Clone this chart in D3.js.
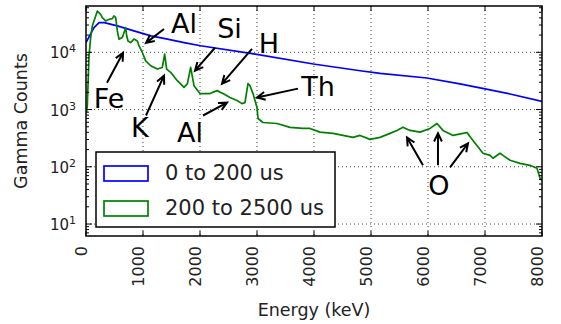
<!DOCTYPE html>
<html>
<head>
<meta charset="utf-8">
<script src="https://cdn.jsdelivr.net/npm/d3@7"></script>
<style>
  body { margin: 0; background: #fff; }
  svg { display: block; font-family: "DejaVu Sans", sans-serif; }
</style>
</head>
<body>
<svg id="chart" width="561" height="324"></svg>
<script>
// blue: 0 to 200 us
const earlyEnergy = [0, 140, 230, 320, 550, 840, 1140, 1430, 1720, 2010, 2970, 3990, 4810, 5160, 5980, 6560, 7000, 7440, 8000];
const earlyCounts = [14800, 27000, 33000, 33000, 28900, 23700, 19400, 17000, 14800, 13000, 9300, 6240, 4760, 4280, 3560, 2800, 2290, 1870, 1390];

// green: 200 to 2500 us
const lateEnergy = [10, 23, 53, 82, 111, 170, 199, 257, 286, 345, 404, 462, 491, 521, 550, 579, 637, 696, 714, 737,
  784, 842, 900, 930, 988, 1047, 1135, 1251, 1339, 1380, 1415, 1485, 1602, 1719, 1778, 1836, 1895, 1982, 2000, 2175,
  2298, 2404, 2526, 2649, 2737, 2789, 2842, 2877, 2930, 3000, 3018, 3105, 3351, 3579, 3807, 3930, 4105, 4333, 4509,
  4684, 4807, 4982, 5158, 5333, 5456, 5561, 5684, 5860, 6035, 6158, 6263, 6439, 6614, 6684, 6789, 6965, 7088, 7140,
  7263, 7316, 7439, 7614, 7789, 7912, 7965, 8000];
const lateCounts = [900, 1170, 8700, 18100, 28900, 43200, 52500, 46000, 40300, 35300, 37800, 38700, 43200, 40300, 23600, 17000, 18100, 26900, 19400, 15800,
  14800, 17000, 15800, 13000, 9930, 7100, 5820, 5100, 5440, 9300, 5100, 4470, 3190, 2440, 2800, 5440, 2610, 2000, 1900, 1900,
  2140, 1900, 1620, 1440, 1270, 1320, 2830, 2610, 1900, 1085, 697, 594, 571, 487, 468, 468, 403, 383, 353,
  326, 353, 301, 326, 383, 432, 492, 432, 403, 468, 571, 432, 353, 383, 398, 289, 172, 158, 141,
  172, 158, 130, 115, 106, 94, 63, 58];

const seriesNames = ["0 to 200 us", "200 to 2500 us"];
const seriesColors = ["#0000ff", "#008000"];

const xTicks = [0, 1000, 2000, 3000, 4000, 5000, 6000, 7000, 8000];
const yTicks = [10, 100, 1000, 10000];

// annotations: label position (energy, counts) and arrows [tailE, tailC, tipE, tipC]
const noteText = ["Fe", "Al", "K", "Si", "H", "Th", "Al", "O"];
const noteAt = [[403, 1084], [1719, 21800], [947, 326], [2518, 17900], [3211, 9800], [4070, 1750], [1825, 267], [6193, 31.9]];
const noteArrows = [
  [[368, 2950, 650, 9800]],
  [[1368, 25600, 1053, 14600]],
  [[1053, 787, 1368, 3900]],
  [[2263, 12000, 1912, 4770]],
  [[2912, 11500, 2386, 2830]],
  [[3719, 2320, 3000, 1620]],
  [[2053, 787, 2474, 1320]],
  [[5912, 106, 5632, 326], [6175, 106, 6175, 383], [6386, 98, 6702, 256]]
];

const svg = d3.select("#chart");
const pLeft = 86, pRight = 542, pTop = 6, pBottom = 236;

const x = d3.scaleLinear().domain([0, 8000]).range([pLeft, pRight]);
const y = d3.scaleLog().domain([6.18, 64400]).range([pBottom, pTop]);

// grid
const grid = svg.append("g").attr("stroke", "#444").attr("stroke-width", 1).attr("stroke-dasharray", "1,3");
grid.selectAll(".gx").data(xTicks.slice(1, -1)).join("line")
  .attr("x1", d => x(d)).attr("x2", d => x(d)).attr("y1", pTop).attr("y2", pBottom);
grid.selectAll(".gy").data(yTicks).join("line")
  .attr("x1", pLeft).attr("x2", pRight).attr("y1", d => y(d)).attr("y2", d => y(d));

// lines
svg.append("clipPath").attr("id", "plotclip")
  .append("rect").attr("x", pLeft).attr("y", pTop).attr("width", pRight - pLeft).attr("height", pBottom - pTop);

const line = d3.line().x(d => x(d[0])).y(d => y(d[1]));
const seriesData = [
  d3.zip(earlyEnergy, earlyCounts),
  d3.zip(lateEnergy, lateCounts)
];
svg.append("g").attr("clip-path", "url(#plotclip)")
  .selectAll("path").data(seriesData).join("path")
  .attr("d", line)
  .attr("fill", "none")
  .attr("stroke", (d, i) => seriesColors[i])
  .attr("stroke-width", 1.7)
  .attr("stroke-linejoin", "round");

// ticks
const ticks = svg.append("g").attr("stroke", "#000").attr("stroke-width", 1);
xTicks.forEach(t => {
  ticks.append("line").attr("x1", x(t)).attr("x2", x(t)).attr("y1", pBottom).attr("y2", pBottom - 5);
  ticks.append("line").attr("x1", x(t)).attr("x2", x(t)).attr("y1", pTop).attr("y2", pTop + 5);
});
const minor = [];
[1, 10, 100, 1000, 10000].forEach(dec => {
  for (let k = 2; k <= 9; k++) {
    const v = dec * k;
    if (v > y.domain()[0] && v < y.domain()[1]) minor.push(v);
  }
});
minor.forEach(v => {
  ticks.append("line").attr("x1", pLeft).attr("x2", pLeft + 3).attr("y1", y(v)).attr("y2", y(v));
  ticks.append("line").attr("x1", pRight).attr("x2", pRight - 3).attr("y1", y(v)).attr("y2", y(v));
});
yTicks.forEach(v => {
  ticks.append("line").attr("x1", pLeft).attr("x2", pLeft + 6).attr("y1", y(v)).attr("y2", y(v));
  ticks.append("line").attr("x1", pRight).attr("x2", pRight - 6).attr("y1", y(v)).attr("y2", y(v));
});

// frame
svg.append("rect").attr("x", pLeft).attr("y", pTop).attr("width", pRight - pLeft).attr("height", pBottom - pTop)
  .attr("fill", "none").attr("stroke", "#000").attr("stroke-width", 1.5);

// x tick labels
svg.append("g").selectAll("text").data(xTicks).join("text")
  .attr("transform", d => `translate(${x(d) + 1},${pBottom + 10}) rotate(-90)`)
  .attr("text-anchor", "end")
  .attr("font-size", 16)
  .attr("fill", "#222")
  .text(d => d);

// y tick labels
const yl = svg.append("g").selectAll("text").data(yTicks).join("text")
  .attr("x", 76).attr("y", d => y(d) + 6)
  .attr("text-anchor", "end").attr("fill", "#222").attr("font-size", 15);
yl.append("tspan").text("10");
yl.append("tspan").attr("dy", -6).attr("font-size", 11).text(d => Math.round(Math.log10(d)));

// axis labels
svg.append("text").attr("x", (pLeft + pRight) / 2).attr("y", 316)
  .attr("text-anchor", "middle").attr("font-size", 17.5).attr("fill", "#222").text("Energy (keV)");
svg.append("text").attr("transform", `translate(27,${(pTop + pBottom) / 2}) rotate(-90)`)
  .attr("text-anchor", "middle").attr("font-size", 17.5).attr("fill", "#222").text("Gamma Counts");

// legend
const lg = svg.append("g");
lg.append("rect").attr("x", 96).attr("y", 152).attr("width", 239).attr("height", 75)
  .attr("fill", "#fff").attr("stroke", "#000").attr("stroke-width", 1.5);
seriesNames.forEach((name, i) => {
  lg.append("rect").attr("x", 104).attr("y", 166 + i * 35).attr("width", 44).attr("height", 15)
    .attr("fill", "none").attr("stroke", seriesColors[i]).attr("stroke-width", 1.7);
  lg.append("text").attr("x", 165).attr("y", 180 + i * 35).attr("font-size", 21).attr("fill", "#222").text(name);
});

// annotations
const ann = svg.append("g");
noteText.forEach((t, i) => {
  ann.append("text").attr("x", x(noteAt[i][0])).attr("y", y(noteAt[i][1]))
    .attr("text-anchor", "middle").attr("font-size", 27).attr("fill", "#000").text(t);
  noteArrows[i].forEach(a => {
    const x0 = x(a[0]), y0 = y(a[1]), x1 = x(a[2]), y1 = y(a[3]);
    const ang = Math.atan2(y1 - y0, x1 - x0);
    const hl = 9, hw = 0.45;
    const p = d3.path();
    p.moveTo(x0, y0); p.lineTo(x1, y1);
    p.moveTo(x1 - hl * Math.cos(ang - hw), y1 - hl * Math.sin(ang - hw));
    p.lineTo(x1, y1);
    p.lineTo(x1 - hl * Math.cos(ang + hw), y1 - hl * Math.sin(ang + hw));
    ann.append("path").attr("d", p.toString()).attr("fill", "none")
      .attr("stroke", "#000").attr("stroke-width", 2).attr("stroke-linejoin", "miter");
  });
});
</script>
</body>
</html>
